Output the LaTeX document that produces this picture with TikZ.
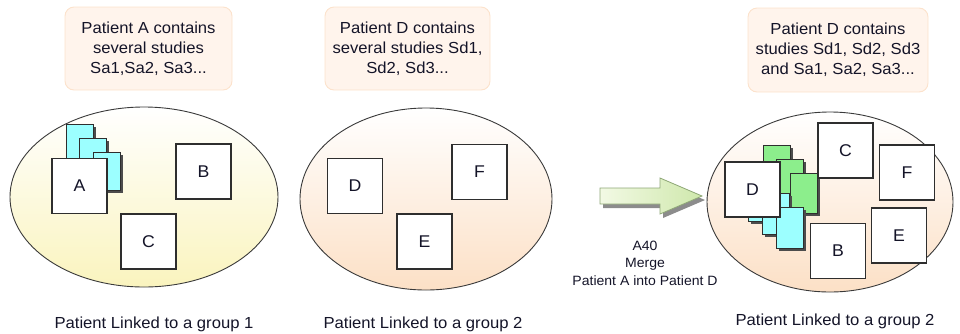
\documentclass[tikz,border=0pt]{standalone}
\usepackage{fontspec}
\setmainfont[FakeStretch=1.04]{Liberation Sans}
\usetikzlibrary{shapes.geometric,shadows}
\definecolor{txt}{HTML}{141428}
\definecolor{edge}{HTML}{3A3A3A}
\definecolor{boxedge}{HTML}{2E2E2E}
\definecolor{notefill}{HTML}{FFF4EC}
\definecolor{noteedge}{HTML}{FCE2CC}
\definecolor{yellowbot}{HTML}{FAF4BE}
\definecolor{peachbot}{HTML}{FCE0C6}
\definecolor{cyancard}{HTML}{9CFFFF}
\definecolor{greencard}{HTML}{8CEE8C}
\definecolor{arrowl}{HTML}{F2F9E4}
\definecolor{arrowr}{HTML}{CFE8AC}
\definecolor{arrowedge}{HTML}{8FA877}
\tikzset{
  grp/.style={ellipse, draw=edge, line width=0.9pt, top color=white, inner sep=0pt},
  study/.style={draw=boxedge, fill=white, line width=1.4pt, minimum width=55pt, minimum height=55pt, inner sep=0pt, text=txt, font=\fontsize{17}{20}\selectfont},
  card/.style={draw=boxedge, line width=1pt, minimum width=27pt, minimum height=39pt, inner sep=0pt,
    drop shadow={shadow xshift=3pt, shadow yshift=-3pt, fill=black!70, opacity=1}},
  note/.style={rounded corners=9pt, draw=noteedge, fill=notefill, line width=0.9pt, align=center, inner sep=0pt, text=txt, font=\fontsize{16}{20}\selectfont},
  caption/.style={text=txt, font=\fontsize{16}{20}\selectfont, inner sep=0pt},
  merge/.style={text=txt, align=center, font=\fontsize{13.5}{17.5}\selectfont, inner sep=0pt}
}
\begin{document}
\begin{tikzpicture}[x=1pt,y=-1pt]
\useasboundingbox (0,0) rectangle (960,333);

% notes
\node[note, minimum width=167pt, minimum height=83pt] (n1) at (148.5,48.5) {Patient A contains\\several studies\\Sa1,Sa2, Sa3...};
\node[note, minimum width=165pt, minimum height=83pt] (n2) at (407.5,48.5) {Patient D contains\\several studies Sd1,\\Sd2, Sd3...};
\node[note, minimum width=180pt, minimum height=84pt] (n3) at (838,50) {Patient D contains\\studies Sd1, Sd2, Sd3\\and Sa1, Sa2, Sa3...};

% group 1
\node[grp, bottom color=yellowbot, minimum width=268pt, minimum height=180pt] (g1) at (144,197) {};
\node[card, fill=cyancard, minimum height=38pt] (a1) at (79.5,143) {};
\node[card, fill=cyancard, minimum height=38pt] (a2) at (92.5,157) {};
\node[card, fill=cyancard, minimum height=38pt] (a3) at (106.5,171) {};
\node[study] (A1) at (79.5,186) {A};
\node[study] (B1) at (203.5,171.5) {B};
\node[study] (C1) at (148.5,241.5) {C};

% group 2
\node[grp, bottom color=peachbot, minimum width=252pt, minimum height=182pt] (g2) at (426,199) {};
\node[study] (D2) at (355,186) {D};
\node[study] (F2) at (479.5,172) {F};
\node[study] (E2) at (424.5,241.5) {E};

% group 3
\node[grp, bottom color=peachbot, minimum width=246pt, minimum height=180pt] (g3) at (830,202) {};
\node[card, fill=greencard, minimum height=40pt] (d1) at (776.5,165) {};
\node[card, fill=greencard, minimum height=40pt] (d2) at (789.5,179) {};
\node[card, fill=greencard, minimum height=40pt] (d3) at (803.5,193) {};
\node[card, fill=cyancard, minimum height=41pt] (s1) at (761.5,200.5) {};
\node[card, fill=cyancard, minimum height=41pt] (s2) at (775.5,213.5) {};
\node[card, fill=cyancard, minimum height=41pt] (s3) at (789.5,227.5) {};
\node[study] (D3) at (752.5,189.5) {D};
\node[study] (C3) at (845.5,150.5) {C};
\node[study] (F3) at (907,172.5) {F};
\node[study] (E3) at (899,235.5) {E};
\node[study] (B3) at (838,251) {B};

% merge arrow
\fill[black!45] (603,192) -- (663,192) -- (663,182) -- (705,200) -- (663,218) -- (663,208) -- (603,208) -- cycle;
\draw[arrowedge, line width=0.8pt, left color=arrowl, right color=arrowr]
  (600,188) -- (660,188) -- (660,178) -- (702,196) -- (660,214) -- (660,204) -- (600,204) -- cycle;
\node[merge] (m) at (645,263) {A40\\Merge\\Patient A into Patient D};

% captions
\node[caption] (l1) at (154,324) {Patient Linked to a group 1};
\node[caption] (l2) at (423,324) {Patient Linked to a group 2};
\node[caption] (l3) at (835,321) {Patient Linked to a group 2};
\end{tikzpicture}
\end{document}
